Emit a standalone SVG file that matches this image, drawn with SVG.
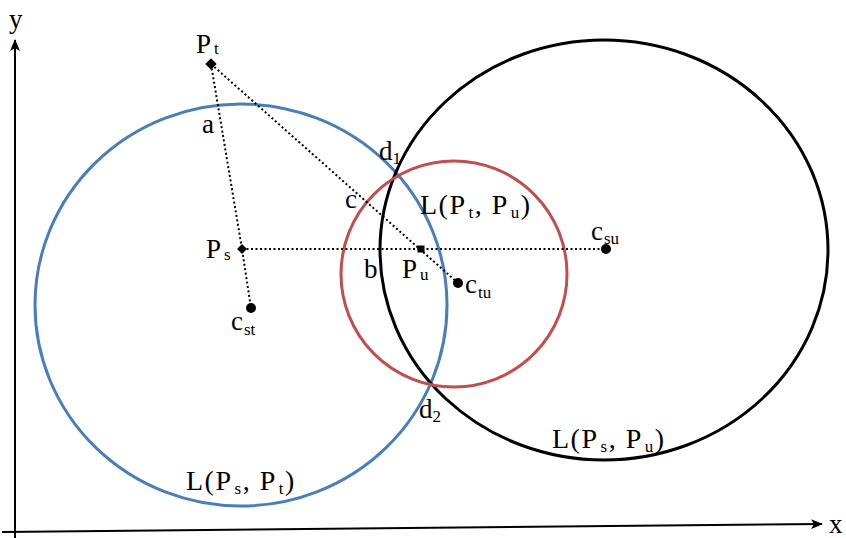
<svg xmlns="http://www.w3.org/2000/svg" width="846" height="538" viewBox="0 0 846 538">
<style>
text{font-family:"Liberation Serif","Times New Roman",serif;fill:#000;font-size:27px}
.lab{letter-spacing:1.5px;font-size:28px}
.s{font-size:17px}
.dot{stroke:#000;stroke-width:2;stroke-dasharray:2 2.5;fill:none}
.ax{stroke:#000;stroke-width:2;fill:none}
</style>
<defs>
<marker id="ar" viewBox="0 0 12 10" refX="11" refY="5" markerWidth="12" markerHeight="10" markerUnits="userSpaceOnUse" orient="auto">
<path d="M0,0 L12,5 L0,10 L3,5 Z" fill="#000"/>
</marker>
</defs>
<g id="axes">
<line class="ax" x1="15" y1="538" x2="15" y2="40" marker-end="url(#ar)"/>
<line class="ax" x1="2" y1="532" x2="822" y2="524" marker-end="url(#ar)"/>
<text x="9" y="28">y</text>
<text x="829" y="533">x</text>
</g>
<g id="circles">
<ellipse id="L_ps_pt" cx="241" cy="305" rx="206" ry="201" fill="none" stroke="#4A7EBB" stroke-width="3"/>
<ellipse id="L_ps_pu" cx="604" cy="250" rx="224" ry="210" fill="none" stroke="#000" stroke-width="3"/>
<circle id="L_pt_pu" cx="454" cy="274" r="113" fill="none" stroke="#C0504D" stroke-width="3"/>
</g>
<g id="connectors">
<polyline class="dot" points="211,64 242,249 251,308"/>
<line class="dot" x1="211" y1="64" x2="458" y2="283"/>
<line class="dot" x1="242" y1="249" x2="606" y2="249"/>
</g>
<g id="Pt"><rect x="207" y="60" width="8" height="8" transform="rotate(45 211 64)" fill="#000"/><text x="196" y="53">P<tspan class="s" dx="3" dy="1">t</tspan></text></g>
<g id="Ps"><rect x="238.5" y="245.5" width="7" height="7" transform="rotate(45 242 249)" fill="#000"/><text x="206" y="258">P<tspan class="s" dx="3" dy="2">s</tspan></text></g>
<g id="Pu"><rect x="417.5" y="245.5" width="7" height="7" fill="#000"/><text x="402" y="278">P<tspan class="s" dx="3" dy="2">u</tspan></text></g>
<g id="cst"><circle cx="251" cy="308" r="5" fill="#000"/><text x="231" y="330">c<tspan class="s" dx="1" dy="5">st</tspan></text></g>
<g id="ctu"><circle cx="458" cy="283" r="5" fill="#000"/><text x="465" y="293">c<tspan class="s" dx="1" dy="5">tu</tspan></text></g>
<g id="csu"><circle cx="606" cy="249" r="5" fill="#000"/><text x="591" y="240">c<tspan class="s" dx="1" dy="4">su</tspan></text></g>
<g id="labels">
<text x="202" y="133">a</text>
<text x="345" y="208">c</text>
<text x="364" y="278">b</text>
<text x="379" y="160">d<tspan class="s" dy="4">1</tspan></text>
<text x="419" y="418">d<tspan class="s" dy="4">2</tspan></text>
<text class="lab" x="420" y="214">L(P<tspan class="s" dx="2" dy="4">t</tspan><tspan dy="-4">, P</tspan><tspan class="s" dx="2" dy="4">u</tspan><tspan dy="-4">)</tspan></text>
<text class="lab" x="186" y="490">L(P<tspan class="s" dx="2" dy="4">s</tspan><tspan dy="-4">, P</tspan><tspan class="s" dx="2" dy="4">t</tspan><tspan dy="-4">)</tspan></text>
<text class="lab" x="552" y="448">L(P<tspan class="s" dx="2" dy="4">s</tspan><tspan dy="-4">, P</tspan><tspan class="s" dx="2" dy="4">u</tspan><tspan dy="-4">)</tspan></text>
</g>
</svg>
